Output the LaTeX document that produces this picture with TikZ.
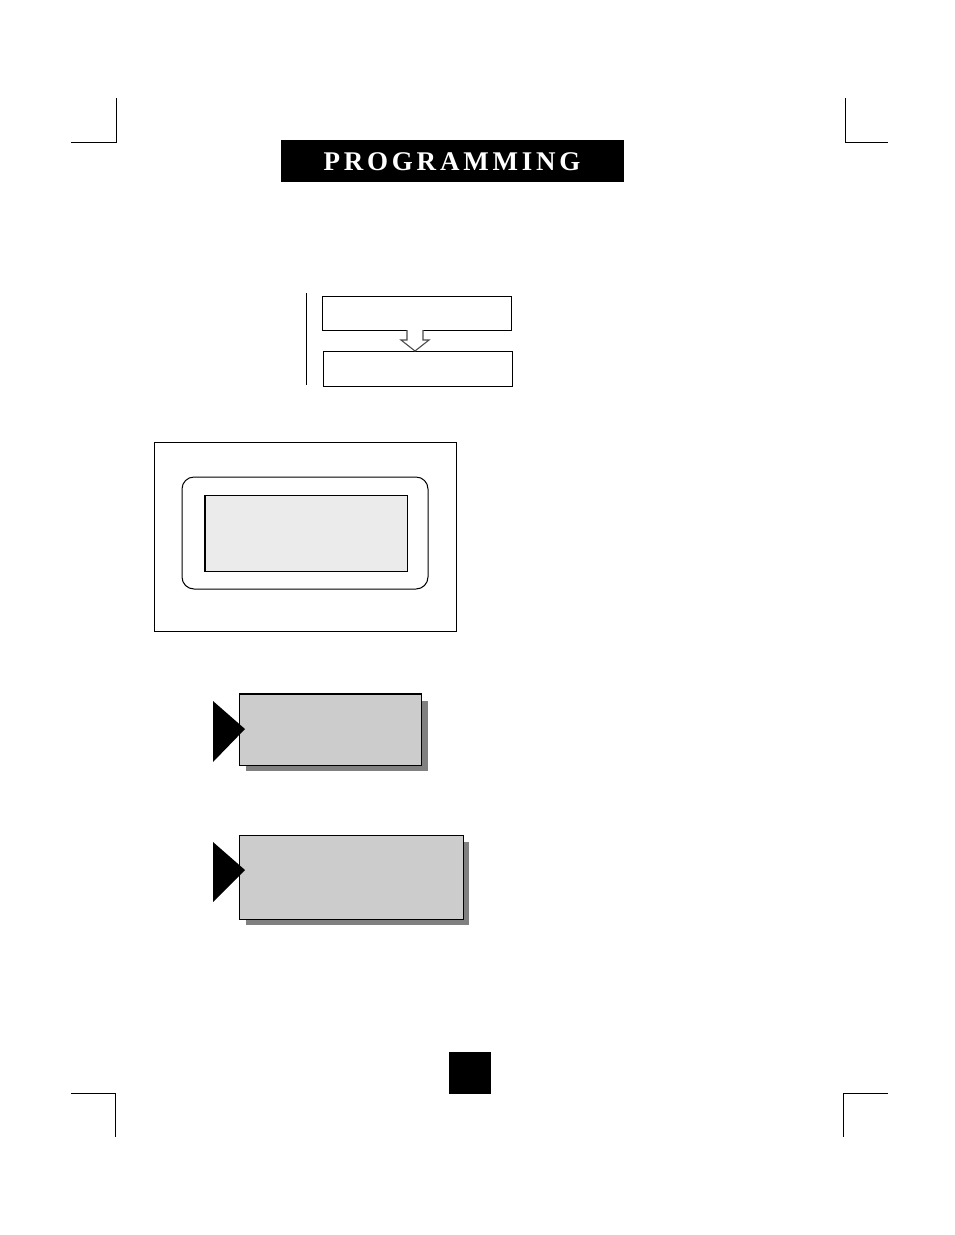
\documentclass[tikz,border=0pt]{standalone}
\usepackage{fontspec}
\newfontfamily\titlefont[LetterSpace=14]{Liberation Serif}
\definecolor{lcdfill}{HTML}{EBEBEB}
\definecolor{boxfill}{HTML}{CCCCCC}
\definecolor{shadowc}{HTML}{808080}
\begin{document}
\begin{tikzpicture}[x=1pt,y=-1pt,
  crop/.style={line width=0.8pt},
  plainbox/.style={draw,line width=0.9pt,inner sep=0pt},
  shadowbox/.style={draw,line width=0.8pt,fill=boxfill,inner sep=0pt},
  pointer/.style={fill=black}]
\useasboundingbox (0,0) rectangle (954,1235);
% crop marks
\draw[crop] (116,98) -- (116,142) -- (71,142);
\draw[crop] (845,98) -- (845,142) -- (888,142);
\draw[crop] (71,1093) -- (115,1093) -- (115,1137);
\draw[crop] (888,1093) -- (843,1093) -- (843,1137);
% title
\fill (281,140) rectangle (624,182);
\node[text=white,font=\titlefont\bfseries\fontsize{27}{27}\selectfont] (title) at (452,162) {PROGRAMMING};
% flow
\draw[line width=0.8pt] (306,293) -- (306,385);
\node[plainbox,minimum width=189pt,minimum height=34pt] (b1) at (416.5,313) {};
\node[plainbox,minimum width=189pt,minimum height=35pt] (b2) at (417.5,368.5) {};
\draw[line width=1.1pt,draw=gray!60!black,fill=white]
  (407,330) -- (407,340) -- (401,340) -- (415,351) -- (429,340) -- (423,340) -- (423,330);
% LCD
\draw[line width=0.9pt] (154,442) rectangle (456,631);
\draw[line width=1pt,rounded corners=12pt] (182,477) rectangle (428,589);
\draw[line width=0.9pt,fill=lcdfill] (204,495) rectangle (407,571);
\draw[line width=1.8pt] (205,495) -- (205,571);
% shadowed boxes
\fill[shadowc] (246,701) rectangle (428,771);
\node[shadowbox,anchor=north west,minimum width=182pt,minimum height=71pt] (s1) at (239,694) {};
\draw[line width=1.6pt] (s1.north west) -- (s1.north east);
\fill[pointer] (213,701) -- (245,729) -- (213,762) -- cycle;
\fill[shadowc] (246,842) rectangle (469,925);
\node[shadowbox,anchor=north west,minimum width=224pt,minimum height=84pt] (s2) at (239,835) {};
\fill[pointer] (213,842) -- (245,870) -- (213,902) -- cycle;
% page box
\fill (449,1052) rectangle (491,1094);
\end{tikzpicture}
\end{document}
